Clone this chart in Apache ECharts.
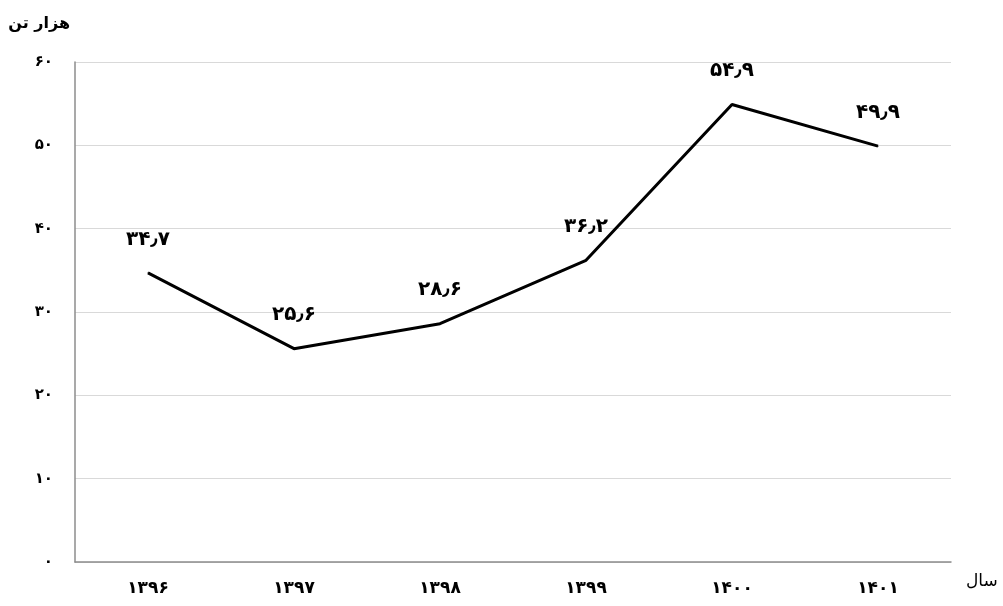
<!DOCTYPE html>
<html>
<head>
<meta charset="utf-8">
<script src="https://cdn.jsdelivr.net/npm/echarts@6/dist/echarts.min.js"></script>
<style>
html,body{margin:0;padding:0;background:#fff;}
#main{width:1003px;height:606px;}
</style>
</head>
<body>
<div id="main"></div>
<script>
// داده ها
var years = ['۱۳۹۶', '۱۳۹۷', '۱۳۹۸', '۱۳۹۹', '۱۴۰۰', '۱۴۰۱'];
var values = [34.7, 25.6, 28.6, 36.2, 54.9, 49.9];
var yTicks = ['۰', '۱۰', '۲۰', '۳۰', '۴۰', '۵۰', '۶۰'];

// تبدیل عدد به رقم فارسی
function fa(v) {
    var s = String(v);
    var d = '۰۱۲۳۴۵۶۷۸۹';
    return s.replace(/[0-9]/g, function (c) { return d[+c]; }).replace('.', '٫');
}

var myChart = echarts.init(document.getElementById('main'));
var font = 'DejaVu Sans';
var option = {
    animation: false,
    grid: {
        left: 75,
        right: 52,
        top: 62,
        bottom: 44
    },
    xAxis: {
        type: 'category',
        data: years,
        boundaryGap: true,
        name: 'سال',
        nameLocation: 'end',
        nameGap: 15,
        nameTextStyle: {
            color: '#000',
            fontFamily: font,
            fontSize: 17,
            verticalAlign: 'top',
            padding: [11, 0, 0, 0]
        },
        axisLine: {lineStyle: {color: '#8c8c8c', width: 1.5}},
        axisTick: {alignWithLabel: true, length: 5, lineStyle: {color: '#8c8c8c'}},
        axisLabel: {
            color: '#000',
            fontFamily: font,
            fontSize: 17,
            fontWeight: 'bold',
            margin: 18
        },
        splitLine: {show: false}
    },
    yAxis: {
        type: 'value',
        min: 0,
        max: 60,
        interval: 10,
        name: 'هزار تن',
        nameLocation: 'end',
        nameGap: 30,
        nameTextStyle: {
            color: '#000',
            fontFamily: font,
            fontSize: 16,
            fontWeight: 'bold',
            align: 'right',
            padding: [0, 5, 0, 0]
        },
        axisLine: {show: true, lineStyle: {color: '#8c8c8c', width: 1.5}},
        axisTick: {show: false},
        axisLabel: {
            color: '#000',
            fontFamily: font,
            fontSize: 15,
            fontWeight: 'bold',
            margin: 22,
            formatter: function (v) { return yTicks[v / 10]; }
        },
        splitLine: {lineStyle: {color: '#d9d9d9', width: 1}}
    },
    series: [{
        type: 'line',
        data: values,
        symbol: 'circle',
        symbolSize: 1,
        showSymbol: true,
        lineStyle: {color: '#000', width: 3},
        itemStyle: {color: '#000'},
        label: {
            show: true,
            position: 'top',
            distance: 23,
            color: '#000',
            fontFamily: font,
            fontSize: 20,
            fontWeight: 'bold',
            formatter: function (p) { return fa(p.value); }
        }
    }]
};
myChart.setOption(option);
</script>
</body>
</html>
